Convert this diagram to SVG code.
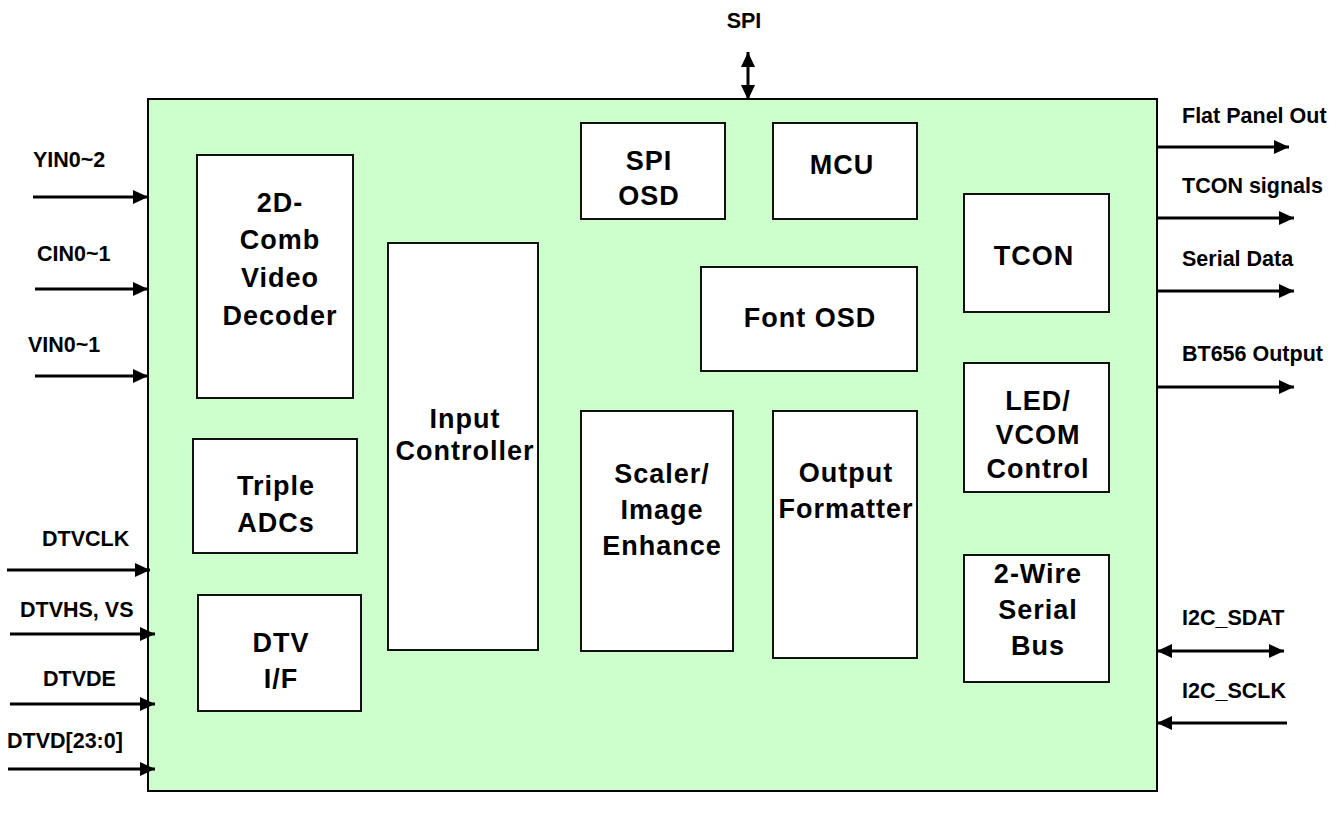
<svg xmlns="http://www.w3.org/2000/svg" width="1344" height="819" viewBox="0 0 1344 819">
<style>
.blk{fill:#ffffff;stroke:#111;stroke-width:2}
.bt{font-family:"Liberation Sans",Arial,sans-serif;font-weight:bold;font-size:27px;letter-spacing:1px;fill:#000;text-anchor:middle}
.lb{font-family:"Liberation Sans",Arial,sans-serif;font-weight:bold;font-size:21.5px;fill:#000}
.ar{stroke:#000;stroke-width:3;fill:none}
</style>
<defs>
<marker id="ah" markerUnits="userSpaceOnUse" markerWidth="16" markerHeight="16" refX="15" refY="7" orient="auto-start-reverse" viewBox="0 0 16 14">
<path d="M0,0 L15,7 L0,14 Z" fill="#000"/>
</marker>
</defs>
<rect width="1344" height="819" fill="#ffffff"/>
<g id="chip">
<rect x="148" y="99" width="1009" height="692" fill="#ccffcc" stroke="#000" stroke-width="2"/>
</g>
<g id="decoder"><rect class="blk" x="197" y="155" width="156" height="243"/>
<text class="bt" x="280" y="212">2D-</text><text class="bt" x="280" y="249">Comb</text><text class="bt" x="280" y="287">Video</text><text class="bt" x="280" y="325">Decoder</text></g>
<g id="adc"><rect class="blk" x="193" y="439" width="164" height="114"/>
<text class="bt" x="276" y="495">Triple</text><text class="bt" x="276" y="532">ADCs</text></g>
<g id="dtvif"><rect class="blk" x="198" y="595" width="163" height="116"/>
<text class="bt" x="281" y="652">DTV</text><text class="bt" x="281" y="688">I/F</text></g>
<g id="input"><rect class="blk" x="388" y="243" width="150" height="407"/>
<text class="bt" x="465" y="428">Input</text><text class="bt" x="465" y="460">Controller</text></g>
<g id="spiosd"><rect class="blk" x="581" y="123" width="144" height="96"/>
<text class="bt" x="649" y="170">SPI</text><text class="bt" x="649" y="205">OSD</text></g>
<g id="mcu"><rect class="blk" x="773" y="123" width="144" height="96"/>
<text class="bt" x="842" y="174">MCU</text></g>
<g id="fontosd"><rect class="blk" x="701" y="267" width="216" height="104"/>
<text class="bt" x="810" y="327">Font OSD</text></g>
<g id="scaler"><rect class="blk" x="581" y="411" width="152" height="240"/>
<text class="bt" x="662" y="483">Scaler/</text><text class="bt" x="662" y="519">Image</text><text class="bt" x="662" y="555">Enhance</text></g>
<g id="formatter"><rect class="blk" x="773" y="411" width="144" height="247"/>
<text class="bt" x="846" y="482">Output</text><text class="bt" x="846" y="518">Formatter</text></g>
<g id="tcon"><rect class="blk" x="964" y="194" width="145" height="118"/>
<text class="bt" x="1034" y="265">TCON</text></g>
<g id="led"><rect class="blk" x="964" y="363" width="145" height="129"/>
<text class="bt" x="1038" y="410">LED/</text><text class="bt" x="1038" y="444">VCOM</text><text class="bt" x="1038" y="478">Control</text></g>
<g id="twowire"><rect class="blk" x="964" y="555" width="145" height="127"/>
<text class="bt" x="1038" y="583">2-Wire</text><text class="bt" x="1038" y="619">Serial</text><text class="bt" x="1038" y="655">Bus</text></g>
<g id="labels">
<text class="lb" x="33" y="167">YIN0~2</text>
<text class="lb" x="37" y="261">CIN0~1</text>
<text class="lb" x="28" y="352">VIN0~1</text>
<text class="lb" x="42" y="546">DTVCLK</text>
<text class="lb" x="20" y="617">DTVHS, VS</text>
<text class="lb" x="43" y="686">DTVDE</text>
<text class="lb" x="7" y="748">DTVD[23:0]</text>
<text class="lb" x="1182" y="123">Flat Panel Out</text>
<text class="lb" x="1182" y="193">TCON signals</text>
<text class="lb" x="1182" y="266">Serial Data</text>
<text class="lb" x="1182" y="361">BT656 Output</text>
<text class="lb" x="1182" y="625">I2C_SDAT</text>
<text class="lb" x="1182" y="698">I2C_SCLK</text>
<text class="lb" x="744" y="28" text-anchor="middle">SPI</text>
</g>
<g id="connectors">
<line class="ar" x1="33" y1="197" x2="148" y2="197" marker-end="url(#ah)"/>
<line class="ar" x1="35" y1="289" x2="148" y2="289" marker-end="url(#ah)"/>
<line class="ar" x1="35" y1="376" x2="148" y2="376" marker-end="url(#ah)"/>
<line class="ar" x1="7" y1="570" x2="150" y2="570" marker-end="url(#ah)"/>
<line class="ar" x1="10" y1="634" x2="155" y2="634" marker-end="url(#ah)"/>
<line class="ar" x1="10" y1="704" x2="155" y2="704" marker-end="url(#ah)"/>
<line class="ar" x1="8" y1="769" x2="155" y2="769" stroke-width="4" marker-end="url(#ah)"/>
<line class="ar" x1="1157" y1="147" x2="1289" y2="147" marker-end="url(#ah)"/>
<line class="ar" x1="1157" y1="218" x2="1294" y2="218" marker-end="url(#ah)"/>
<line class="ar" x1="1157" y1="291" x2="1294" y2="291" marker-end="url(#ah)"/>
<line class="ar" x1="1157" y1="387" x2="1294" y2="387" marker-end="url(#ah)"/>
<line class="ar" x1="1157" y1="651" x2="1284" y2="651" marker-start="url(#ah)" marker-end="url(#ah)"/>
<line class="ar" x1="1287" y1="723" x2="1157" y2="723" marker-end="url(#ah)"/>
<line class="ar" x1="748" y1="52" x2="748" y2="100" marker-start="url(#ah)" marker-end="url(#ah)"/>
</g>
</svg>
